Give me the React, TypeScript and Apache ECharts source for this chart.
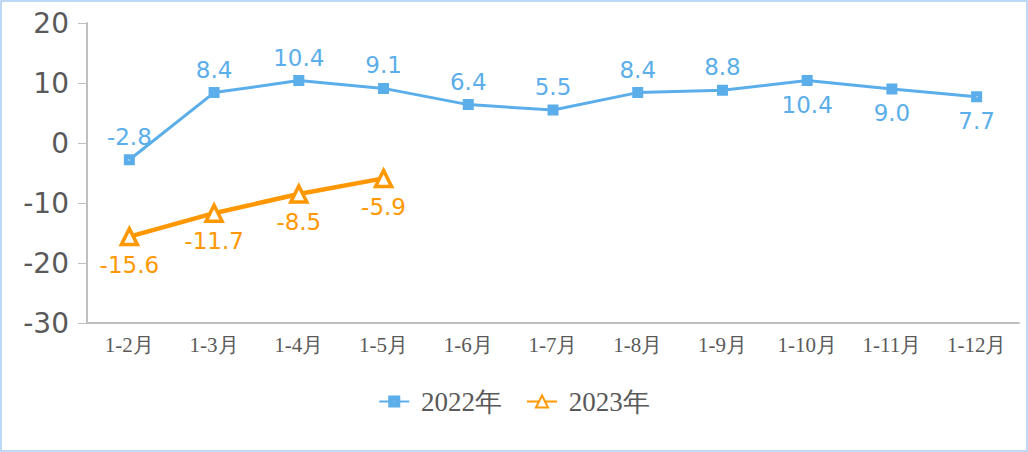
import React, { useEffect, useRef } from "react";
import * as echarts from "echarts";

const categories = ["1-2月", "1-3月", "1-4月", "1-5月", "1-6月", "1-7月", "1-8月", "1-9月", "1-10月", "1-11月", "1-12月"];
const values2022 = [-2.8, 8.4, 10.4, 9.1, 6.4, 5.5, 8.4, 8.8, 10.4, 9.0, 7.7];
const labelPos2022 = ["top", "top", "top", "top", "top", "top", "top", "top", "bottom", "bottom", "bottom"];
const values2023 = [-15.6, -11.7, -8.5, -5.9];
const seriesNames = ["2022年", "2023年"];
const yTicks = { min: -30, max: 20, interval: 10 };

const BLUE = "#5BAEEA";
const ORANGE = "#FF9800";
const SERIF = "Liberation Serif";
const SQUARE_DOT = "path://M0,0L10,0L10,10L0,10Z M4.3,4.3L4.3,5.7L5.7,5.7L5.7,4.3Z";

export default function App() {
  const ref = useRef<HTMLDivElement>(null);
  useEffect(() => {
    if (!ref.current) return;
    const chart = echarts.init(ref.current, null, { renderer: "svg" });
    chart.setOption({
      animation: false,
      backgroundColor: "#fff",
      graphic: [
        {
          type: "rect",
          shape: { x: 1, y: 1, width: 1026, height: 450 },
          style: { fill: "none", stroke: "#A9CDEE", lineWidth: 1.5 },
          silent: true,
        },
      ],
      grid: { left: 87, right: 9, top: 23, bottom: 129, containLabel: false },
      legend: {
        top: 383,
        left: "center",
        itemWidth: 30,
        itemHeight: 15,
        itemGap: 24,
        formatter: (name: string) => " " + name,
        textStyle: {
          fontFamily: SERIF,
          fontSize: 27,
          color: "#595959",
        },
        data: seriesNames,
      },
      xAxis: {
        type: "category",
        data: categories,
        boundaryGap: true,
        axisLine: { onZero: false, lineStyle: { color: "#BFBFBF", width: 2 } },
        axisTick: { show: false },
        axisLabel: {
          fontFamily: SERIF,
          fontSize: 21,
          color: "#595959",
          margin: 11,
          interval: 0,
        },
      },
      yAxis: {
        type: "value",
        min: yTicks.min,
        max: yTicks.max,
        interval: yTicks.interval,
        splitLine: { show: false },
        axisLine: { show: true, lineStyle: { color: "#BFBFBF", width: 2 } },
        axisTick: { show: true, length: 9, lineStyle: { color: "#BFBFBF" } },
        axisLabel: { fontFamily: "DejaVu Sans", fontSize: 28, color: "#595959", margin: 18 },
      },
      series: [
        {
          name: seriesNames[0],
          type: "line",
          data: values2022.map((v, i) => ({
            value: v,
            label: { position: labelPos2022[i], distance: labelPos2022[i] === "top" ? 6 : 7 },
          })),
          symbol: SQUARE_DOT,
          symbolSize: 11,
          lineStyle: { color: BLUE, width: 3 },
          itemStyle: { color: BLUE, borderWidth: 0 },
          color: BLUE,
          label: {
            show: true,
            color: BLUE,
            fontFamily: "DejaVu Sans",
            fontSize: 23,
            formatter: (p: any) => Number(p.value).toFixed(1),
          },
          z: 3,
        },
        {
          name: seriesNames[1],
          type: "line",
          data: values2023,
          symbol: "triangle",
          symbolSize: 16,
          lineStyle: { color: ORANGE, width: 4.5 },
          itemStyle: { color: "#fff", borderColor: ORANGE, borderWidth: 3.5 },
          color: ORANGE,
          label: {
            show: true,
            position: "bottom",
            distance: 7,
            color: ORANGE,
            fontFamily: "DejaVu Sans",
            fontSize: 23,
            formatter: (p: any) => Number(p.value).toFixed(1),
          },
          z: 4,
        },
      ],
    });
    return () => chart.dispose();
  }, []);
  return (
    <div
      ref={ref}
      style={{ position: "absolute", left: 0, top: 0, width: 1028, height: 452 }}
    />
  );
}
